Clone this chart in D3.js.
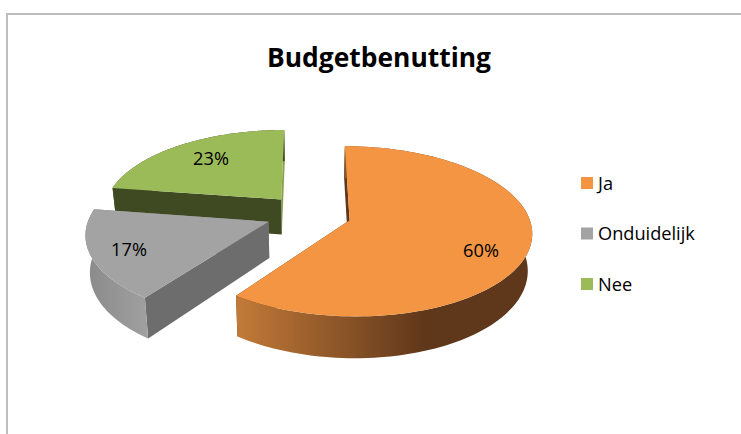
<!DOCTYPE html>
<html><head><meta charset="utf-8">
<script src="https://cdn.jsdelivr.net/npm/d3@7"></script>
<style>html,body{margin:0;padding:0;background:#fff}svg{display:block}</style>
</head><body><svg id="c" width="741" height="434"></svg>
<script>
const title = "Budgetbenutting";
const categories = ["Ja", "Onduidelijk", "Nee"];
const values = [60, 17.4, 22.6];
const topColors = ["#f39543", "#a3a3a3", "#9bbb59"];
const startFaceColors = ["#5f371a", "#6d6d6d", "#404a22"];
const endFaceColors = ["#5f371a", "#8a8a8a", "#86a04c"];
const rimStops = [["#c27a38", "#5f371a"], ["#8a8a8a", "#a0a0a0"], ["#404a22", "#404a22"]];
const rimGradientSpan = [[237, 425], [86, 148], [110, 285]];
const labelPos = [[481, 250], [129, 249], [211, 158]];

const W = 741, H = 434;
const svg = d3.select("#c");
const defs = svg.append("defs");

// disk plane -> screen, with perspective
const explode = 0.24, persp = 0.13, depth = 36, bottomShrink = 0.98;
const sx = d3.scaleLinear().domain([0, 1]).range([308.5, 308.5 + 178.5]);
const sy = d3.scaleLinear().domain([0, 1]).range([214, 214 + 82]);
function project(U, V, bottom) {
  const s = 1 / (1 - persp * V);
  const x0 = sx(0), px = sx(U * s), py = sy(V * s);
  return bottom ? [x0 + (px - x0) * bottomShrink, py + depth * s] : [px, py];
}

const arcs = d3.pie().sort(null).value(d => d)(values);
const order = [2, 1, 0];
const line = d3.line();

svg.append("path").attr("d", line([[7, H], [7, 14], [W, 14]]))
  .attr("fill", "none").attr("stroke", "#bdbdbd").attr("stroke-width", 2);

order.forEach(i => {
  const a = arcs[i], mid = (a.startAngle + a.endAngle) / 2;
  const cu = explode * Math.sin(mid), cv = -explode * Math.cos(mid);
  const angles = d3.range(0, 121).map(k => a.startAngle + (a.endAngle - a.startAngle) * k / 120);
  const rim = b => angles.map(t => project(cu + Math.sin(t), cv - Math.cos(t), b));
  const apex = b => project(cu, cv, b);
  const g = svg.append("g");
  const gid = "rim" + i;
  const grad = defs.append("linearGradient").attr("id", gid).attr("gradientUnits", "userSpaceOnUse")
    .attr("x1", rimGradientSpan[i][0]).attr("x2", rimGradientSpan[i][1]).attr("y1", 0).attr("y2", 0);
  grad.append("stop").attr("offset", 0).attr("stop-color", rimStops[i][0]);
  grad.append("stop").attr("offset", 1).attr("stop-color", rimStops[i][1]);
  const rt = rim(false), rb = rim(true);
  g.append("path").attr("d", line([apex(false), rt[120], rb[120], apex(true)]) + "Z").attr("fill", endFaceColors[i]);
  g.append("path").attr("d", line([apex(false), rt[0], rb[0], apex(true)]) + "Z").attr("fill", startFaceColors[i]);
  g.append("path").attr("d", line(rt.concat(rb.slice().reverse())) + "Z").attr("fill", `url(#${gid})`);
  g.append("path").attr("d", line([apex(false), ...rt]) + "Z").attr("fill", topColors[i]);
});

const font = "'Open Sans', 'Noto Sans', sans-serif";
svg.append("text").text(title).attr("x", 379).attr("y", 67).attr("text-anchor", "middle")
  .attr("font-family", font).attr("font-weight", 700).attr("font-size", 26.4).attr("fill", "#000");

values.forEach((v, i) => {
  svg.append("text").text(Math.round(v) + "%").attr("x", labelPos[i][0]).attr("y", labelPos[i][1] + 6.5)
    .attr("text-anchor", "middle").attr("font-family", font).attr("font-size", 18.2).attr("fill", "#000");
});

const legendY = d3.scalePoint().domain(categories).range([183, 284]);
categories.forEach((c, i) => {
  svg.append("rect").attr("x", 581).attr("y", legendY(c) - 6).attr("width", 12).attr("height", 12).attr("fill", topColors[i]);
  svg.append("text").text(c).attr("x", 598).attr("y", legendY(c) + 6.5)
    .attr("font-family", font).attr("font-size", 18.2).attr("fill", "#000");
});
</script></body></html>
